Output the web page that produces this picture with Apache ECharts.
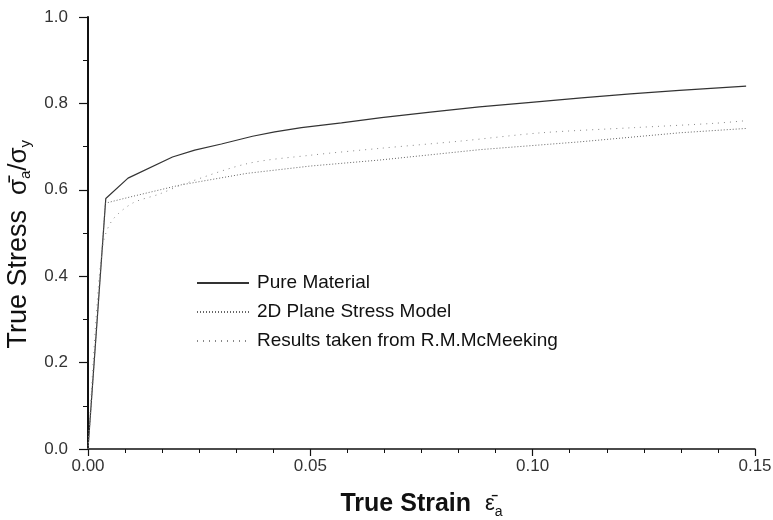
<!DOCTYPE html>
<html><head><meta charset="utf-8">
<script src="https://cdn.jsdelivr.net/npm/echarts@6/dist/echarts.min.js"></script>
<style>html,body{margin:0;padding:0;background:#fff}#c{width:773px;height:520px}</style>
</head><body><div id="c"></div>
<script>
var seriesNames = ['Pure Material', '2D Plane Stress Model', 'Results taken from R.M.McMeeking'];
var pureX = [0, 0.004, 0.009, 0.019, 0.024, 0.030, 0.037, 0.042, 0.048, 0.057, 0.066, 0.077, 0.088, 0.099, 0.111, 0.122, 0.133, 0.148];
var pureY = [0, 0.580, 0.627, 0.676, 0.692, 0.706, 0.724, 0.734, 0.744, 0.755, 0.767, 0.780, 0.792, 0.802, 0.813, 0.822, 0.830, 0.840];
var planeX = [0, 0.0039, 0.0097, 0.0207, 0.0357, 0.050, 0.0657, 0.0882, 0.1106, 0.1331, 0.148];
var planeY = [0, 0.569, 0.584, 0.611, 0.638, 0.655, 0.669, 0.693, 0.711, 0.732, 0.742];
var mcmX = [0, 0.002, 0.0035, 0.0055, 0.010, 0.016, 0.022, 0.036, 0.050, 0.0657, 0.084, 0.102, 0.123, 0.141, 0.148];
var mcmY = [0, 0.330, 0.480, 0.530, 0.569, 0.590, 0.615, 0.661, 0.680, 0.696, 0.713, 0.732, 0.744, 0.754, 0.760];
var xTicks = {min: 0, max: 0.15, step: 0.05};
var yTicks = {min: 0, max: 1.0, step: 0.2};

function pairs(xs, ys) { return xs.map(function (x, i) { return [x, ys[i]]; }); }

var chart = echarts.init(document.getElementById('c'), null, {renderer: 'canvas'});
var font = 'Liberation Sans, Arial, sans-serif';
chart.setOption({
  animation: false,
  backgroundColor: '#fff',
  grid: {left: 88, right: 18, top: 17, bottom: 71, containLabel: false, outerBoundsMode: 'none'},
  legend: {
    orient: 'vertical', left: 196, top: 273, padding: 0,
    itemWidth: 52, itemHeight: 14, itemGap: 9,
    itemStyle: {opacity: 0},
    textStyle: {fontFamily: font, fontSize: 19, lineHeight: 20, color: '#111', padding: [0, 0, 0, 3]},
    data: seriesNames
  },
  xAxis: {
    type: 'value', min: xTicks.min, max: xTicks.max, interval: xTicks.step,
    name: '{b|True Strain  }{e|ε̄}{s|a}',
    nameLocation: 'middle', nameGap: 40,
    nameTextStyle: {
      rich: {
        b: {fontFamily: font, fontWeight: 'bold', fontSize: 25, color: '#111'},
        e: {fontFamily: font, fontSize: 22, color: '#111'},
        s: {fontFamily: font, fontSize: 14, color: '#111', padding: [16, 0, 0, 0]}
      }
    },
    axisLine: {show: true, onZero: false, lineStyle: {color: '#111', width: 1.5}},
    axisTick: {show: true, inside: false, length: 7, lineStyle: {color: '#111', width: 1.2}},
    minorTick: {show: true, splitNumber: 6, length: 4, lineStyle: {color: '#111', width: 1}},
    splitLine: {show: false},
    axisLabel: {fontFamily: font, fontSize: 17, color: '#333', margin: 9,
      formatter: function (v) { return v.toFixed(2); }}
  },
  yAxis: {
    type: 'value', min: yTicks.min, max: yTicks.max, interval: yTicks.step,
    name: '{t|True Stress  }{g|σ̄}{s|a}{g|/σ}{s|y}{t|   }',
    nameLocation: 'middle', nameGap: 47,
    nameTextStyle: {
      rich: {
        t: {fontFamily: font, fontSize: 27, color: '#111'},
        g: {fontFamily: font, fontSize: 26, color: '#111'},
        s: {fontFamily: font, fontSize: 15, color: '#111', padding: [14, 0, 0, 0]}
      }
    },
    axisLine: {show: true, onZero: false, lineStyle: {color: '#111', width: 2}},
    axisTick: {show: true, inside: false, length: 9, lineStyle: {color: '#111', width: 1.2}},
    minorTick: {show: true, splitNumber: 2, length: 5, lineStyle: {color: '#111', width: 1}},
    splitLine: {show: false},
    axisLabel: {fontFamily: font, fontSize: 17, color: '#333', margin: 20,
      formatter: function (v) { return v.toFixed(1); }}
  },
  series: [
    {name: seriesNames[0], type: 'line', data: pairs(pureX, pureY), symbol: 'none',
      lineStyle: {color: '#333', width: 1.2, type: 'solid'}, itemStyle: {color: '#333'}},
    {name: seriesNames[1], type: 'line', data: pairs(planeX, planeY), symbol: 'none',
      lineStyle: {color: '#666', width: 1, type: [1, 2]}, itemStyle: {color: '#666'}},
    {name: seriesNames[2], type: 'line', data: pairs(mcmX, mcmY), symbol: 'none', smooth: 0.3,
      lineStyle: {color: '#888', width: 1, type: [1, 5]}, itemStyle: {color: '#888'}}
  ]
});
</script></body></html>
